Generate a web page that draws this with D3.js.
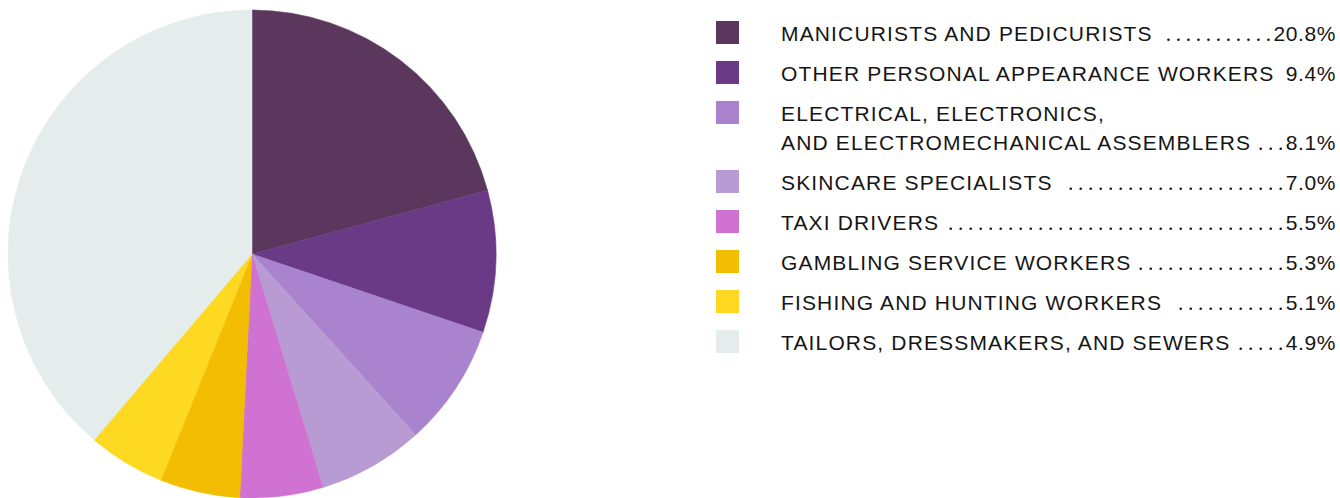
<!DOCTYPE html>
<html>
  <head>
    <meta charset="utf-8">
    <script src="https://cdn.jsdelivr.net/npm/d3@7"></script>
    <style>
      body { margin: 0; background: #ffffff; }
      text { font-family: "Liberation Sans", Arial, sans-serif; }
    </style>
  </head>
  <body>
    <script>
      // Occupations (legend order, also slice order clockwise from 12 o'clock)
      var categories = [
        "MANICURISTS AND PEDICURISTS",
        "OTHER PERSONAL APPEARANCE WORKERS",
        "ELECTRICAL, ELECTRONICS,\nAND ELECTROMECHANICAL ASSEMBLERS",
        "SKINCARE SPECIALISTS",
        "TAXI DRIVERS",
        "GAMBLING SERVICE WORKERS",
        "FISHING AND HUNTING WORKERS",
        "TAILORS, DRESSMAKERS, AND SEWERS"
      ];
      // Share in percent
      var values = [20.8, 9.4, 8.1, 7.0, 5.5, 5.3, 5.1, 4.9];
      var colors = ["#5b375e", "#6b3a86", "#a983cd", "#b99bd4",
                    "#cf72d1", "#f3bd04", "#fdd922", "#e5ecec"];
      // The rest of the circle, drawn in the same grey as the last slice
      var remainder = 33.9;

      var width = 1340, height = 498;
      var svg = d3.select("body").append("svg")
        .attr("width", width).attr("height", height);

      // ---- Pie ----
      var radius = 244;
      var pieData = values.map(function(v, i) { return {value: v, color: colors[i]}; });
      pieData.push({value: remainder, color: colors[colors.length - 1]});

      var pie = d3.pie().sort(null).value(function(d) { return d.value; });
      var arc = d3.arc().innerRadius(0).outerRadius(radius);

      var pieG = svg.append("g").attr("transform", "translate(252,254)");
      pieG.selectAll("path")
        .data(pie(pieData))
        .enter().append("path")
        .attr("d", arc)
        .attr("fill", function(d) { return d.data.color; })
        .attr("stroke", function(d) { return d.data.color; })
        .attr("stroke-width", 0.5);

      // ---- Legend ----
      var swatchX = 716, swatchSize = 23, textX = 781, rightX = 1336;
      var rowGap = 40, lineHeight = 29, fontSize = 21, spacing = 1.15;
      var fmt = d3.format(".1f");

      var legend = svg.append("g");
      var baseline = 41;   // baseline of the first text line of each row
      categories.forEach(function(cat, i) {
        var lines = cat.split("\n");
        var row = legend.append("g").attr("transform", "translate(0," + baseline + ")");

        row.append("rect")
          .attr("x", swatchX).attr("y", -20)
          .attr("width", swatchSize).attr("height", swatchSize)
          .attr("fill", colors[i]);

        var lastLabel;
        lines.forEach(function(line, j) {
          lastLabel = row.append("text")
            .attr("x", textX).attr("y", j * lineHeight)
            .attr("font-size", fontSize)
            .attr("letter-spacing", spacing)
            .attr("fill", "#151515")
            .text(line);
        });
        var lastY = (lines.length - 1) * lineHeight;

        var pct = row.append("text")
          .attr("x", rightX).attr("y", lastY)
          .attr("font-size", fontSize)
          .attr("text-anchor", "end")
          .attr("letter-spacing", 0.6)
          .attr("fill", "#151515")
          .text(fmt(values[i]) + "%");

        // Dot leaders between the label and the percentage
        var labelEnd = textX + lastLabel.node().getComputedTextLength();
        var pctStart = rightX - pct.node().getComputedTextLength();
        var dots = [];
        for (var x = pctStart - 5; x > labelEnd + 9; x -= 10) { dots.push(x); }
        row.selectAll("circle.dot")
          .data(dots).enter().append("circle")
          .attr("class", "dot")
          .attr("cx", function(d) { return d; })
          .attr("cy", lastY - 1.3)
          .attr("r", 1.3)
          .attr("fill", "#151515");

        baseline += rowGap + (lines.length - 1) * lineHeight;
      });
    </script>
  </body>
</html>
